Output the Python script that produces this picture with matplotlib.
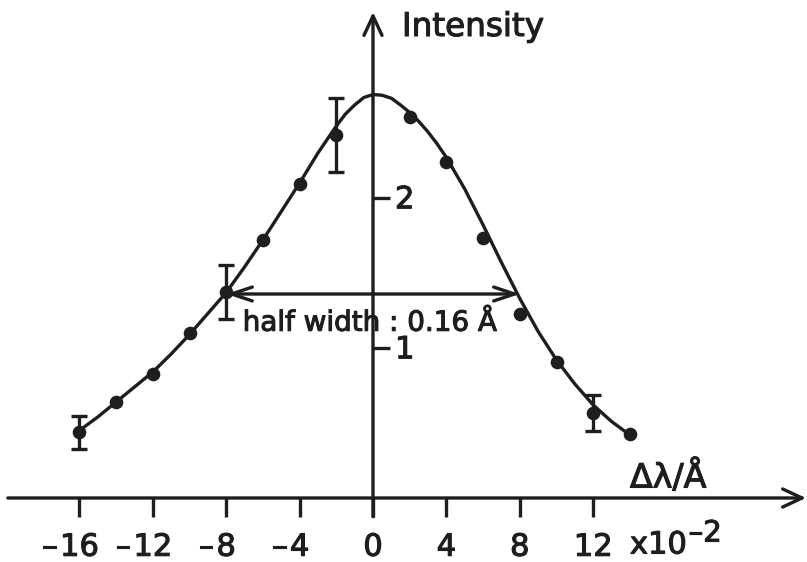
import matplotlib
matplotlib.use("Agg")
import matplotlib.pyplot as plt
import matplotlib.patheffects as pe

# measured line profile, shift in units of 1e-2 Angstrom
shift = [-16, -14, -12, -10, -8, -6, -4, -2, 2, 4, 6, 8, 10, 12, 14]
intensity = [0.44, 0.64, 0.83, 1.10, 1.37, 1.72, 2.09, 2.42, 2.54, 2.24, 1.73, 1.23, 0.91, 0.57, 0.43]

# error bars drawn on a few of the points
err_shift = [-16, -8, -2, 12]
err_size = [0.11, 0.18, 0.245, 0.12]

# fitted profile
fit_shift = [-16, -15, -14, -13, -12, -11, -10, -9, -8, -7, -6, -5, -4, -3.5, -3, -2.5, -2,
             -1.5, -1, -0.5, 0, 0.5, 1, 1.5, 2, 2.5, 3, 3.5, 4, 5, 6, 7, 8, 9, 10, 11, 12,
             13, 14]
fit_intensity = [0.45, 0.54, 0.64, 0.74, 0.84, 0.96, 1.09, 1.23, 1.37, 1.54, 1.72, 1.91, 2.10,
                 2.20, 2.30, 2.39, 2.48, 2.56, 2.62, 2.67, 2.69, 2.685, 2.665, 2.62, 2.57,
                 2.51, 2.44, 2.36, 2.27, 2.06, 1.82, 1.57, 1.33, 1.11, 0.92, 0.76, 0.62,
                 0.51, 0.42]

x_ticks = [-16, -12, -8, -4, 0, 4, 8, 12]
y_ticks = [1, 2]
half_width = 16  # 0.16 A
half_level = 1.36

ink = "#1e1e1e"
lw = 2.4
fs = 22
bold_ink = [pe.withStroke(linewidth=0.8, foreground=ink)]

fig = plt.figure(figsize=(8.07, 5.62), dpi=100)
ax = fig.add_axes([0, 0, 1, 1])
ax.set_xlim(-373 / 18.35, 434 / 18.35)
ax.set_ylim(-64 / 150, 498 / 150)
ax.axis("off")


def label(x, y, s, size=fs, **kw):
    return ax.text(x, y, s, fontsize=size, color=ink, path_effects=bold_ink, **kw)


# axes with open arrow heads
arrow = dict(arrowstyle="->,head_length=1.4,head_width=0.65", lw=lw, color=ink,
             shrinkA=0, shrinkB=0, mutation_scale=10)
ax.annotate("", xy=(23.6, 0), xytext=(-19.9, 0), arrowprops=arrow)
ax.annotate("", xy=(0, 3.24), xytext=(0, -0.125), arrowprops=arrow)

# x ticks below the axis, minus sign hanging left of the digits
for v in x_ticks:
    ax.plot([v, v], [0, -0.125], color=ink, lw=lw, solid_capstyle="butt")
    t = label(v, -0.385, str(abs(v)), ha="center", va="baseline")
    if v < 0:
        ax.annotate("\u2013", xy=(0, 0.5), xycoords=t, xytext=(-2, 0),
                    textcoords="offset points", ha="right", va="center",
                    fontsize=fs, color=ink, path_effects=bold_ink)

# y ticks to the right of the axis
for v in y_ticks:
    ax.plot([0, 0.93], [v, v], color=ink, lw=lw, solid_capstyle="butt")
    label(1.2, v - 0.012, str(v), ha="left", va="center")

label(1.58, 3.08, "Intensity", size=23.5, ha="left", va="baseline")
label(14.0, 0.07, "\u0394\u03bb/\u00c5", size=24, ha="left", va="baseline")
label(14.0, -0.37, "x10", ha="left", va="baseline")
label(17.2, -0.29, "\u20132", size=21, ha="left", va="baseline")

# fitted curve and measured points
ax.plot(fit_shift, fit_intensity, color=ink, lw=lw, zorder=3)
ax.plot(shift, intensity, "o", color=ink, ms=8.8, zorder=4)
err_vals = [intensity[shift.index(s)] for s in err_shift]
ax.errorbar(err_shift, err_vals, yerr=err_size, fmt="none", ecolor=ink,
            elinewidth=lw, capsize=6, capthick=lw, zorder=4)

# half width marker
ax.annotate("", xy=(half_width / 2, half_level), xytext=(-half_width / 2, half_level),
            arrowprops=dict(arrowstyle="<->,head_length=1.5,head_width=0.5", lw=lw,
                            color=ink, shrinkA=0, shrinkB=0, mutation_scale=10))
label(-7.1, 1.115, "half width : 0.16 \u00c5", size=20, ha="left", va="baseline")

fig.savefig("out.png", dpi=100, facecolor="white")
